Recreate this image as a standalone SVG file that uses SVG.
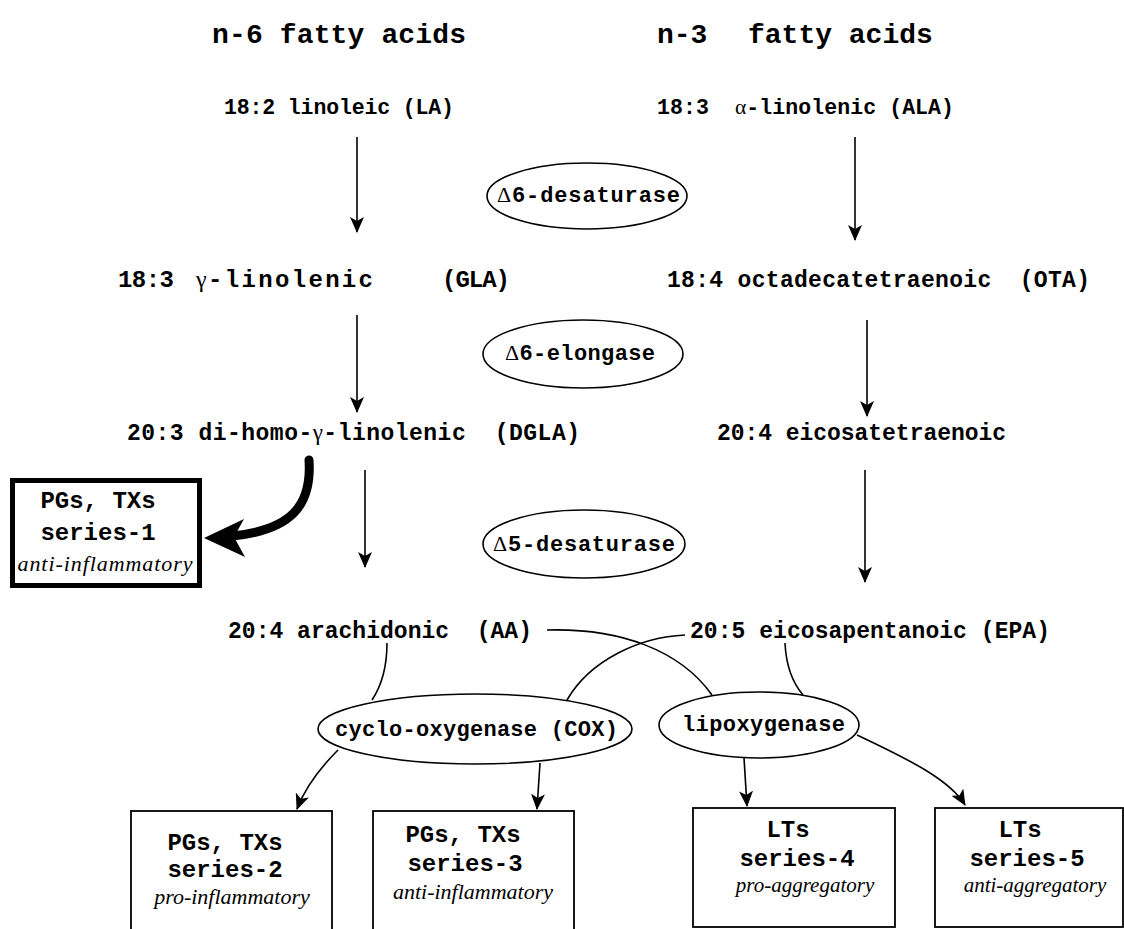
<svg xmlns="http://www.w3.org/2000/svg" width="1124" height="929" viewBox="0 0 1124 929">
<style>
.t{font-family:"Liberation Mono","Courier New",monospace;font-weight:bold;fill:#000}
.g{font-family:"Liberation Serif","Times New Roman",serif;font-weight:normal}
.i{font-family:"Liberation Serif","Times New Roman",serif;font-style:italic;font-weight:normal;fill:#000}
.e{fill:#fff;stroke:#000;stroke-width:1.6}
.b{fill:#fff;stroke:#000;stroke-width:1.8}
.c{fill:none;stroke:#000;stroke-width:1.6}
.a{fill:none;stroke:#000;stroke-width:1.6;marker-end:url(#ah)}
</style>
<defs>
<marker id="ah" markerUnits="userSpaceOnUse" markerWidth="16" markerHeight="14" refX="15" refY="7" orient="auto">
<path d="M0,0 L16,7 L0,14 L4,7 z" fill="#000"/>
</marker>
</defs>
<rect width="1124" height="929" fill="#fff"/>

<g id="titles">
<text class="t" x="212" y="43" font-size="28" textLength="254">n-6 fatty acids</text>
<text class="t" font-size="28"><tspan x="657" y="43">n-3</tspan><tspan x="748" y="43">fatty acids</tspan></text>
</g>

<g id="connectors">
<line class="a" x1="357" y1="137" x2="357" y2="232"/>
<line class="a" x1="855" y1="137" x2="855" y2="240"/>
<line class="a" x1="357" y1="315" x2="357" y2="412"/>
<line class="a" x1="867" y1="320" x2="867" y2="416"/>
<line class="a" x1="365" y1="470" x2="365" y2="567"/>
<line class="a" x1="865" y1="470" x2="865" y2="582"/>
<path d="M309,460 C312,505 292,530 232,536" fill="none" stroke="#000" stroke-width="9" stroke-linecap="round"/>
<path d="M204,538 L244,519 L234,537 L245,557 z" fill="#000"/>
<path class="c" d="M547,630 C620,628 680,650 712,695"/>
<path class="c" d="M685,635 C640,637 590,660 567,700"/>
<path class="c" d="M387,643 C387,665 382,685 372,700"/>
<path class="c" d="M785,643 C786,665 792,682 803,695"/>
<path class="a" d="M338,750 C318,770 305,788 297,809"/>
<path class="a" d="M540,763 L537,809"/>
<path class="a" d="M744,758 L747,806"/>
<path class="a" d="M857,735 C910,760 950,780 965,805"/>
</g>

<g id="n6-LA"><text class="t" x="224" y="114" font-size="21.5" textLength="230">18:2 linoleic (LA)</text></g>
<g id="n3-ALA"><text class="t" x="657" y="114" font-size="21.5" textLength="297" xml:space="preserve">18:3  <tspan class="g">α</tspan>-linolenic (ALA)</text></g>

<g id="d6-desaturase">
<ellipse class="e" cx="587" cy="196" rx="100" ry="33"/>
<text class="t" x="497" y="202" font-size="22" textLength="183"><tspan class="g">Δ</tspan>6-desaturase</text>
</g>

<g id="n6-GLA"><text class="t" font-size="24"><tspan x="118" y="287" textLength="56">18:3</tspan><tspan class="g" x="196" y="287">γ</tspan><tspan x="208" y="287" textLength="165">-linolenic</tspan><tspan x="442" y="287" textLength="68">(GLA)</tspan></text></g>
<g id="n3-OTA"><text class="t" x="667" y="287" font-size="23" textLength="423" xml:space="preserve">18:4 octadecatetraenoic  (OTA)</text></g>

<g id="d6-elongase">
<ellipse class="e" cx="583" cy="354" rx="100" ry="34"/>
<text class="t" x="505" y="360" font-size="22" textLength="150"><tspan class="g">Δ</tspan>6-elongase</text>
</g>

<g id="n6-DGLA"><text class="t" x="127" y="440" font-size="23" textLength="453" xml:space="preserve">20:3 di-homo-<tspan class="g">γ</tspan>-linolenic  (DGLA)</text></g>
<g id="n3-ETA"><text class="t" x="717" y="440" font-size="23" textLength="289">20:4 eicosatetraenoic</text></g>

<g id="series1">
<rect x="12.5" y="480.5" width="187" height="105" fill="#fff" stroke="#000" stroke-width="5"/>
<text class="t" x="98" y="508" font-size="24" text-anchor="middle">PGs, TXs</text>
<text class="t" x="98" y="540" font-size="24" text-anchor="middle">series-1</text>
<text class="i" x="105" y="571" font-size="22" text-anchor="middle" textLength="175">anti-inflammatory</text>
</g>

<g id="d5-desaturase">
<ellipse class="e" cx="584" cy="544" rx="101" ry="34"/>
<text class="t" x="493" y="551" font-size="22" textLength="182"><tspan class="g">Δ</tspan>5-desaturase</text>
</g>

<g id="n6-AA"><text class="t" x="228" y="638" font-size="23" textLength="304" xml:space="preserve">20:4 arachidonic  (AA)</text></g>
<g id="n3-EPA"><text class="t" x="690" y="638" font-size="23" textLength="360">20:5 eicosapentanoic (EPA)</text></g>

<g id="cox">
<ellipse class="e" cx="475" cy="729" rx="157" ry="35"/>
<text class="t" x="335" y="736" font-size="22" textLength="283" xml:space="preserve">cyclo-oxygenase (COX)</text>
</g>

<g id="lox">
<ellipse class="e" cx="759" cy="725" rx="100" ry="33"/>
<text class="t" x="682" y="731" font-size="22" textLength="163">lipoxygenase</text>
</g>

<g id="series2">
<rect class="b" x="131" y="811" width="201" height="125"/>
<text class="t" x="225" y="850" font-size="24" text-anchor="middle">PGs, TXs</text>
<text class="t" x="225" y="877" font-size="24" text-anchor="middle">series-2</text>
<text class="i" x="232" y="904" font-size="22" text-anchor="middle">pro-inflammatory</text>
</g>

<g id="series3">
<rect class="b" x="373" y="811" width="201" height="125"/>
<text class="t" x="463" y="842" font-size="24" text-anchor="middle">PGs, TXs</text>
<text class="t" x="465" y="871" font-size="24" text-anchor="middle">series-3</text>
<text class="i" x="473" y="899" font-size="22" text-anchor="middle">anti-inflammatory</text>
</g>

<g id="series4">
<rect class="b" x="693" y="808" width="202" height="119"/>
<text class="t" x="788" y="837" font-size="24" text-anchor="middle">LTs</text>
<text class="t" x="797" y="866" font-size="24" text-anchor="middle">series-4</text>
<text class="i" x="805" y="892" font-size="21" text-anchor="middle">pro-aggregatory</text>
</g>

<g id="series5">
<rect class="b" x="935" y="808" width="188" height="119"/>
<text class="t" x="1020" y="837" font-size="24" text-anchor="middle">LTs</text>
<text class="t" x="1027" y="866" font-size="24" text-anchor="middle">series-5</text>
<text class="i" x="1035" y="892" font-size="21" text-anchor="middle">anti-aggregatory</text>
</g>
</svg>
